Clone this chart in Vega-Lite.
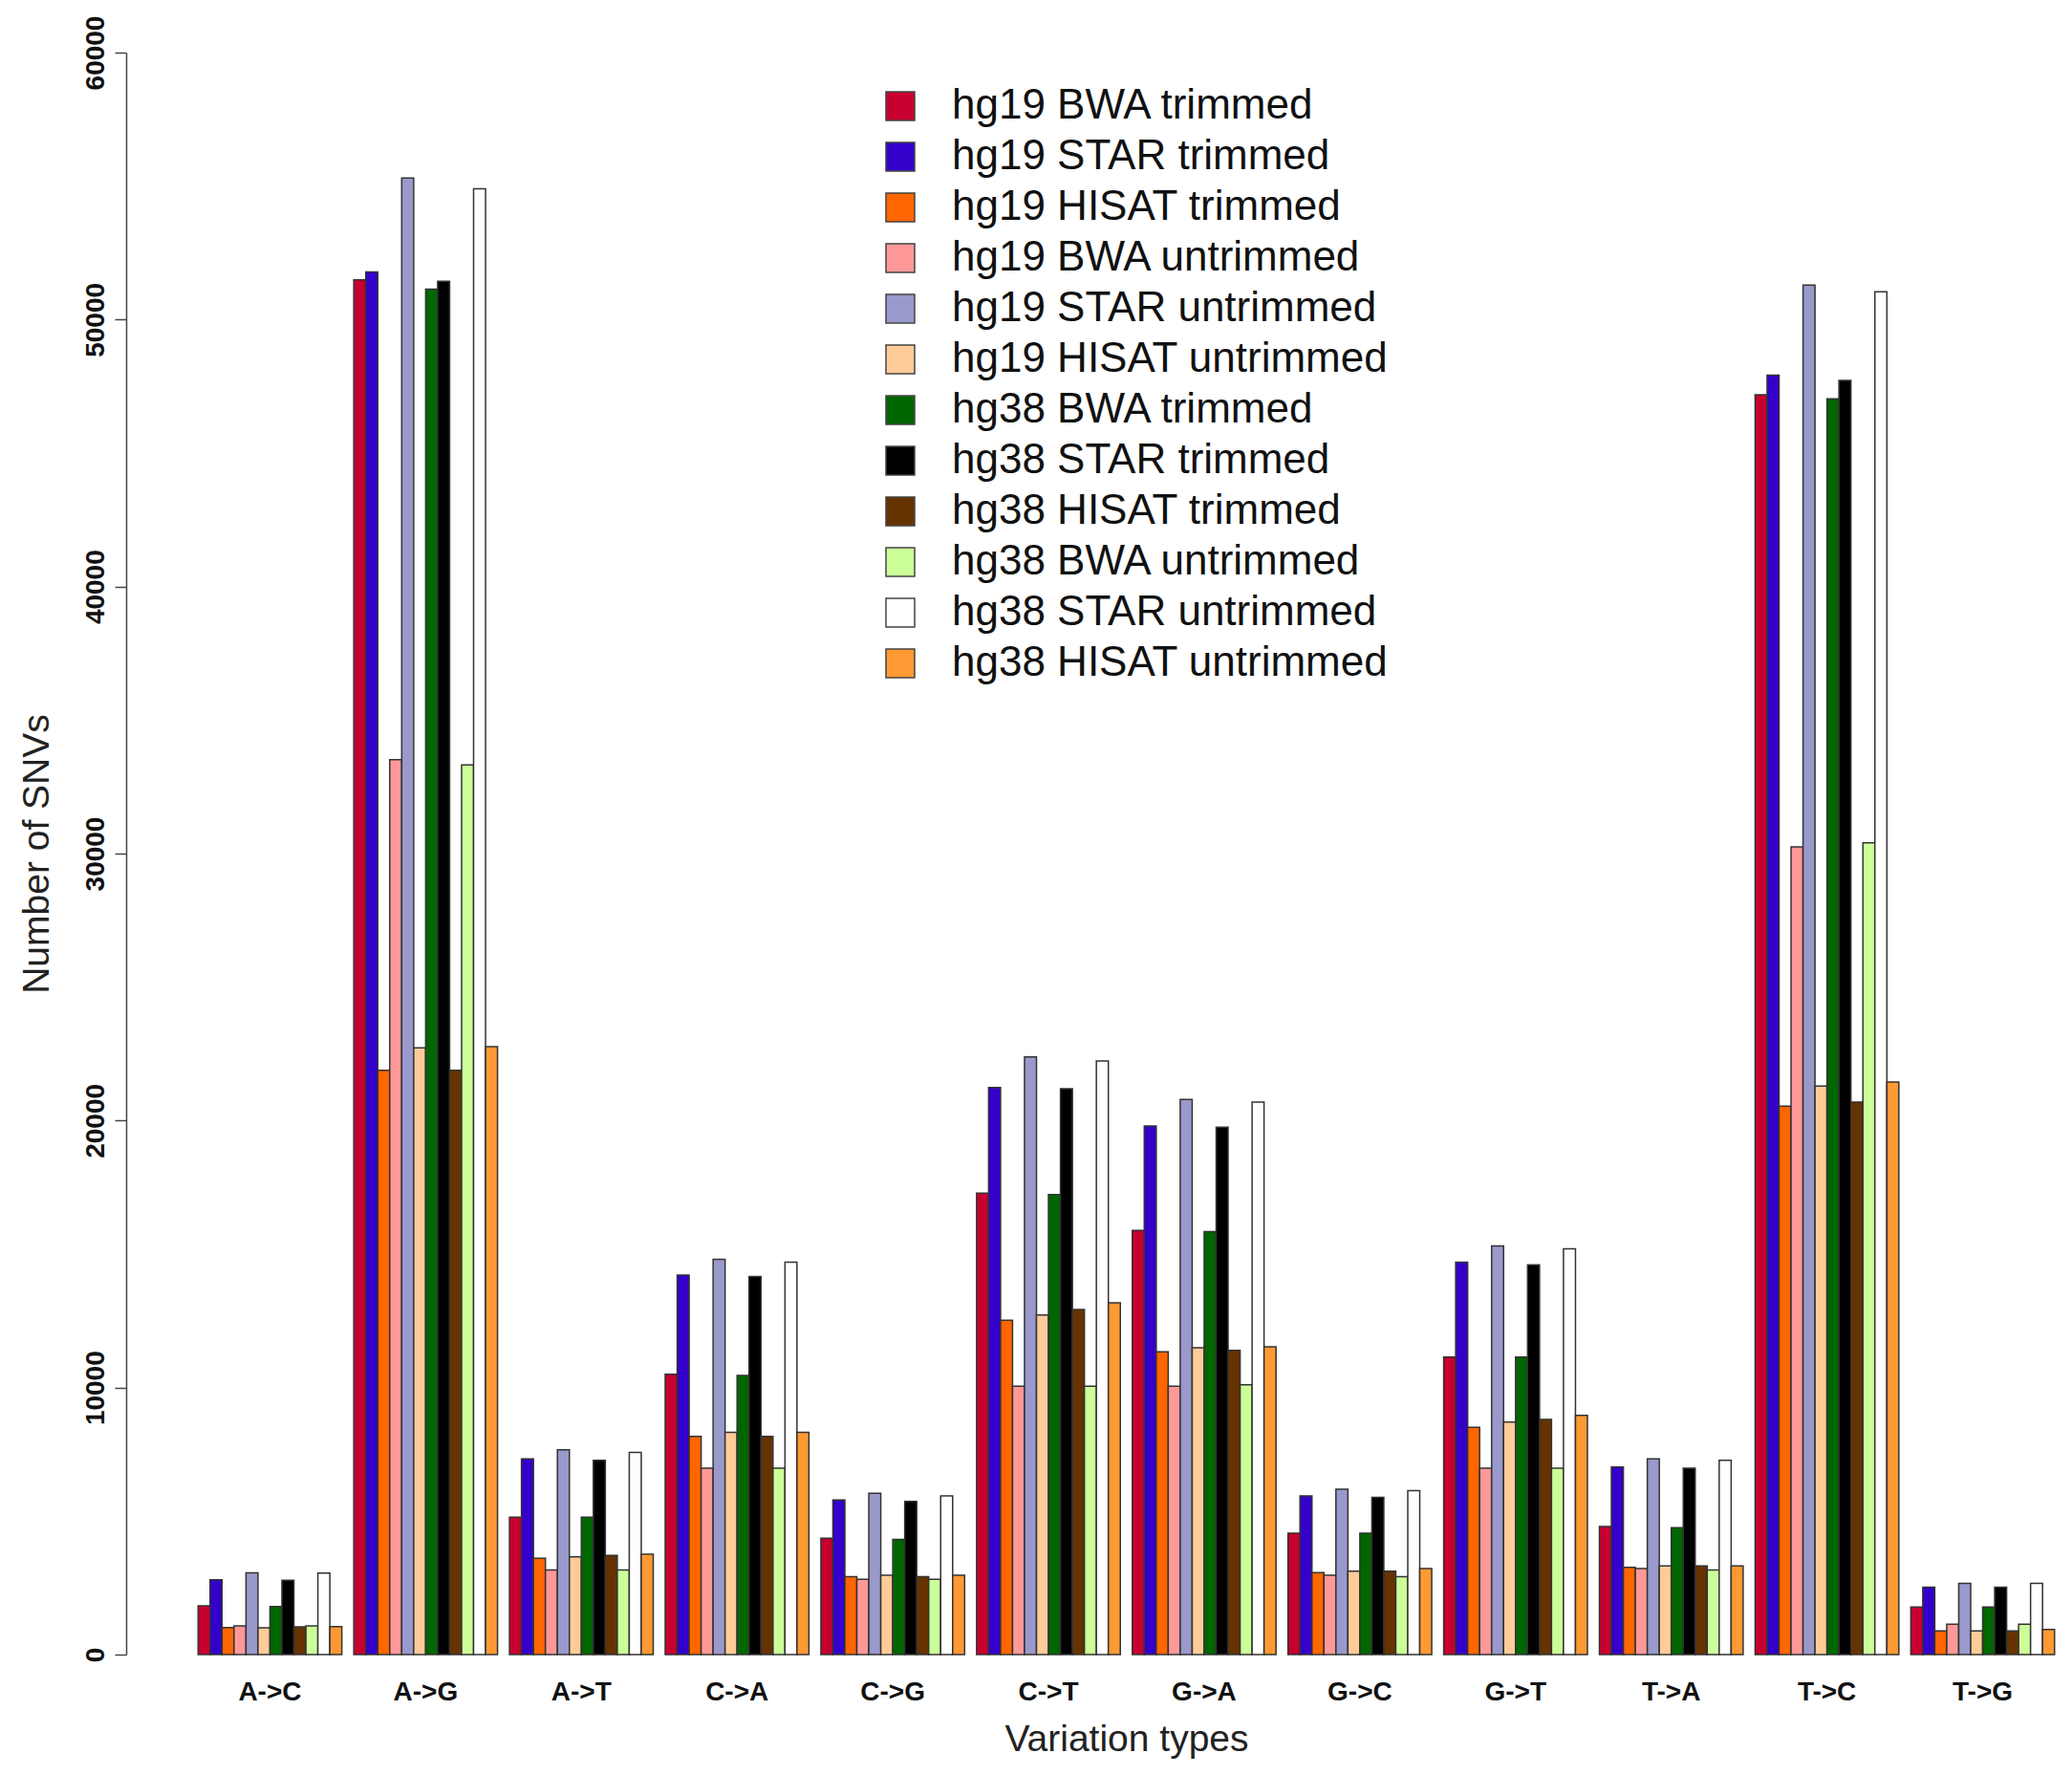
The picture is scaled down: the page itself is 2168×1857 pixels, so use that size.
{
  "$schema": "https://vega.github.io/schema/vega-lite/v6.json",
  "autosize": "none",
  "padding": {"left": 201, "top": 55, "right": 12, "bottom": 126},
  "width": 1955,
  "height": 1676,
  "background": "white",
  "config": {
    "view": {"stroke": null},
    "font": "Liberation Sans"
  },
  "data": {
    "values": [
      {"type": "A->C", "series": "hg19 BWA trimmed", "n": 1826},
      {"type": "A->C", "series": "hg19 STAR trimmed", "n": 2800},
      {"type": "A->C", "series": "hg19 HISAT trimmed", "n": 1013},
      {"type": "A->C", "series": "hg19 BWA untrimmed", "n": 1074},
      {"type": "A->C", "series": "hg19 STAR untrimmed", "n": 3060},
      {"type": "A->C", "series": "hg19 HISAT untrimmed", "n": 1000},
      {"type": "A->C", "series": "hg38 BWA trimmed", "n": 1800},
      {"type": "A->C", "series": "hg38 STAR trimmed", "n": 2780},
      {"type": "A->C", "series": "hg38 HISAT trimmed", "n": 1038},
      {"type": "A->C", "series": "hg38 BWA untrimmed", "n": 1074},
      {"type": "A->C", "series": "hg38 STAR untrimmed", "n": 3050},
      {"type": "A->C", "series": "hg38 HISAT untrimmed", "n": 1051},

      {"type": "A->G", "series": "hg19 BWA trimmed", "n": 51485},
      {"type": "A->G", "series": "hg19 STAR trimmed", "n": 51780},
      {"type": "A->G", "series": "hg19 HISAT trimmed", "n": 21880},
      {"type": "A->G", "series": "hg19 BWA untrimmed", "n": 33515},
      {"type": "A->G", "series": "hg19 STAR untrimmed", "n": 55300},
      {"type": "A->G", "series": "hg19 HISAT untrimmed", "n": 22720},
      {"type": "A->G", "series": "hg38 BWA trimmed", "n": 51140},
      {"type": "A->G", "series": "hg38 STAR trimmed", "n": 51435},
      {"type": "A->G", "series": "hg38 HISAT trimmed", "n": 21880},
      {"type": "A->G", "series": "hg38 BWA untrimmed", "n": 33320},
      {"type": "A->G", "series": "hg38 STAR untrimmed", "n": 54900},
      {"type": "A->G", "series": "hg38 HISAT untrimmed", "n": 22770},

      {"type": "A->T", "series": "hg19 BWA trimmed", "n": 5150},
      {"type": "A->T", "series": "hg19 STAR trimmed", "n": 7330},
      {"type": "A->T", "series": "hg19 HISAT trimmed", "n": 3610},
      {"type": "A->T", "series": "hg19 BWA untrimmed", "n": 3170},
      {"type": "A->T", "series": "hg19 STAR untrimmed", "n": 7670},
      {"type": "A->T", "series": "hg19 HISAT untrimmed", "n": 3660},
      {"type": "A->T", "series": "hg38 BWA trimmed", "n": 5150},
      {"type": "A->T", "series": "hg38 STAR trimmed", "n": 7280},
      {"type": "A->T", "series": "hg38 HISAT trimmed", "n": 3710},
      {"type": "A->T", "series": "hg38 BWA untrimmed", "n": 3170},
      {"type": "A->T", "series": "hg38 STAR untrimmed", "n": 7570},
      {"type": "A->T", "series": "hg38 HISAT untrimmed", "n": 3760},

      {"type": "C->A", "series": "hg19 BWA trimmed", "n": 10500},
      {"type": "C->A", "series": "hg19 STAR trimmed", "n": 14210},
      {"type": "C->A", "series": "hg19 HISAT trimmed", "n": 8170},
      {"type": "C->A", "series": "hg19 BWA untrimmed", "n": 6980},
      {"type": "C->A", "series": "hg19 STAR untrimmed", "n": 14800},
      {"type": "C->A", "series": "hg19 HISAT untrimmed", "n": 8320},
      {"type": "C->A", "series": "hg38 BWA trimmed", "n": 10450},
      {"type": "C->A", "series": "hg38 STAR trimmed", "n": 14160},
      {"type": "C->A", "series": "hg38 HISAT trimmed", "n": 8170},
      {"type": "C->A", "series": "hg38 BWA untrimmed", "n": 6980},
      {"type": "C->A", "series": "hg38 STAR untrimmed", "n": 14700},
      {"type": "C->A", "series": "hg38 HISAT untrimmed", "n": 8320},

      {"type": "C->G", "series": "hg19 BWA trimmed", "n": 4360},
      {"type": "C->G", "series": "hg19 STAR trimmed", "n": 5790},
      {"type": "C->G", "series": "hg19 HISAT trimmed", "n": 2920},
      {"type": "C->G", "series": "hg19 BWA untrimmed", "n": 2820},
      {"type": "C->G", "series": "hg19 STAR untrimmed", "n": 6040},
      {"type": "C->G", "series": "hg19 HISAT untrimmed", "n": 2970},
      {"type": "C->G", "series": "hg38 BWA trimmed", "n": 4310},
      {"type": "C->G", "series": "hg38 STAR trimmed", "n": 5740},
      {"type": "C->G", "series": "hg38 HISAT trimmed", "n": 2920},
      {"type": "C->G", "series": "hg38 BWA untrimmed", "n": 2820},
      {"type": "C->G", "series": "hg38 STAR untrimmed", "n": 5940},
      {"type": "C->G", "series": "hg38 HISAT untrimmed", "n": 2970},

      {"type": "C->T", "series": "hg19 BWA trimmed", "n": 17280},
      {"type": "C->T", "series": "hg19 STAR trimmed", "n": 21240},
      {"type": "C->T", "series": "hg19 HISAT trimmed", "n": 12520},
      {"type": "C->T", "series": "hg19 BWA untrimmed", "n": 10050},
      {"type": "C->T", "series": "hg19 STAR untrimmed", "n": 22380},
      {"type": "C->T", "series": "hg19 HISAT untrimmed", "n": 12720},
      {"type": "C->T", "series": "hg38 BWA trimmed", "n": 17230},
      {"type": "C->T", "series": "hg38 STAR trimmed", "n": 21190},
      {"type": "C->T", "series": "hg38 HISAT trimmed", "n": 12920},
      {"type": "C->T", "series": "hg38 BWA untrimmed", "n": 10050},
      {"type": "C->T", "series": "hg38 STAR untrimmed", "n": 22230},
      {"type": "C->T", "series": "hg38 HISAT untrimmed", "n": 13170},

      {"type": "G->A", "series": "hg19 BWA trimmed", "n": 15890},
      {"type": "G->A", "series": "hg19 STAR trimmed", "n": 19800},
      {"type": "G->A", "series": "hg19 HISAT trimmed", "n": 11340},
      {"type": "G->A", "series": "hg19 BWA untrimmed", "n": 10050},
      {"type": "G->A", "series": "hg19 STAR untrimmed", "n": 20790},
      {"type": "G->A", "series": "hg19 HISAT untrimmed", "n": 11490},
      {"type": "G->A", "series": "hg38 BWA trimmed", "n": 15840},
      {"type": "G->A", "series": "hg38 STAR trimmed", "n": 19750},
      {"type": "G->A", "series": "hg38 HISAT trimmed", "n": 11390},
      {"type": "G->A", "series": "hg38 BWA untrimmed", "n": 10100},
      {"type": "G->A", "series": "hg38 STAR untrimmed", "n": 20690},
      {"type": "G->A", "series": "hg38 HISAT untrimmed", "n": 11530},

      {"type": "G->C", "series": "hg19 BWA trimmed", "n": 4550},
      {"type": "G->C", "series": "hg19 STAR trimmed", "n": 5940},
      {"type": "G->C", "series": "hg19 HISAT trimmed", "n": 3070},
      {"type": "G->C", "series": "hg19 BWA untrimmed", "n": 2970},
      {"type": "G->C", "series": "hg19 STAR untrimmed", "n": 6190},
      {"type": "G->C", "series": "hg19 HISAT untrimmed", "n": 3120},
      {"type": "G->C", "series": "hg38 BWA trimmed", "n": 4550},
      {"type": "G->C", "series": "hg38 STAR trimmed", "n": 5890},
      {"type": "G->C", "series": "hg38 HISAT trimmed", "n": 3120},
      {"type": "G->C", "series": "hg38 BWA untrimmed", "n": 2920},
      {"type": "G->C", "series": "hg38 STAR untrimmed", "n": 6140},
      {"type": "G->C", "series": "hg38 HISAT untrimmed", "n": 3220},

      {"type": "G->T", "series": "hg19 BWA trimmed", "n": 11140},
      {"type": "G->T", "series": "hg19 STAR trimmed", "n": 14700},
      {"type": "G->T", "series": "hg19 HISAT trimmed", "n": 8510},
      {"type": "G->T", "series": "hg19 BWA untrimmed", "n": 6980},
      {"type": "G->T", "series": "hg19 STAR untrimmed", "n": 15300},
      {"type": "G->T", "series": "hg19 HISAT untrimmed", "n": 8710},
      {"type": "G->T", "series": "hg38 BWA trimmed", "n": 11140},
      {"type": "G->T", "series": "hg38 STAR trimmed", "n": 14600},
      {"type": "G->T", "series": "hg38 HISAT trimmed", "n": 8810},
      {"type": "G->T", "series": "hg38 BWA untrimmed", "n": 6980},
      {"type": "G->T", "series": "hg38 STAR untrimmed", "n": 15200},
      {"type": "G->T", "series": "hg38 HISAT untrimmed", "n": 8960},

      {"type": "T->A", "series": "hg19 BWA trimmed", "n": 4800},
      {"type": "T->A", "series": "hg19 STAR trimmed", "n": 7030},
      {"type": "T->A", "series": "hg19 HISAT trimmed", "n": 3270},
      {"type": "T->A", "series": "hg19 BWA untrimmed", "n": 3220},
      {"type": "T->A", "series": "hg19 STAR untrimmed", "n": 7330},
      {"type": "T->A", "series": "hg19 HISAT untrimmed", "n": 3320},
      {"type": "T->A", "series": "hg38 BWA trimmed", "n": 4750},
      {"type": "T->A", "series": "hg38 STAR trimmed", "n": 6980},
      {"type": "T->A", "series": "hg38 HISAT trimmed", "n": 3320},
      {"type": "T->A", "series": "hg38 BWA untrimmed", "n": 3170},
      {"type": "T->A", "series": "hg38 STAR untrimmed", "n": 7280},
      {"type": "T->A", "series": "hg38 HISAT untrimmed", "n": 3320},

      {"type": "T->C", "series": "hg19 BWA trimmed", "n": 47180},
      {"type": "T->C", "series": "hg19 STAR trimmed", "n": 47920},
      {"type": "T->C", "series": "hg19 HISAT trimmed", "n": 20540},
      {"type": "T->C", "series": "hg19 BWA untrimmed", "n": 30250},
      {"type": "T->C", "series": "hg19 STAR untrimmed", "n": 51290},
      {"type": "T->C", "series": "hg19 HISAT untrimmed", "n": 21290},
      {"type": "T->C", "series": "hg38 BWA trimmed", "n": 47030},
      {"type": "T->C", "series": "hg38 STAR trimmed", "n": 47720},
      {"type": "T->C", "series": "hg38 HISAT trimmed", "n": 20690},
      {"type": "T->C", "series": "hg38 BWA untrimmed", "n": 30400},
      {"type": "T->C", "series": "hg38 STAR untrimmed", "n": 51040},
      {"type": "T->C", "series": "hg38 HISAT untrimmed", "n": 21440},

      {"type": "T->G", "series": "hg19 BWA trimmed", "n": 1780},
      {"type": "T->G", "series": "hg19 STAR trimmed", "n": 2520},
      {"type": "T->G", "series": "hg19 HISAT trimmed", "n": 890},
      {"type": "T->G", "series": "hg19 BWA untrimmed", "n": 1140},
      {"type": "T->G", "series": "hg19 STAR untrimmed", "n": 2670},
      {"type": "T->G", "series": "hg19 HISAT untrimmed", "n": 890},
      {"type": "T->G", "series": "hg38 BWA trimmed", "n": 1780},
      {"type": "T->G", "series": "hg38 STAR trimmed", "n": 2520},
      {"type": "T->G", "series": "hg38 HISAT trimmed", "n": 890},
      {"type": "T->G", "series": "hg38 BWA untrimmed", "n": 1140},
      {"type": "T->G", "series": "hg38 STAR untrimmed", "n": 2670},
      {"type": "T->G", "series": "hg38 HISAT untrimmed", "n": 940}
    ]
  },
  "mark": {"type": "bar", "stroke": "#333333", "strokeWidth": 1.5},
  "encoding": {
    "x": {
      "field": "type",
      "type": "nominal",
      "sort": null,
      "scale": {"paddingInner": 0.0769, "paddingOuter": 0.0385},
      "axis": {
        "title": "Variation types",
        "titleFontSize": 39,
        "titleFontWeight": "normal",
        "titleColor": "#222222",
        "titlePadding": 16,
        "labelAngle": 0,
        "labelFontSize": 28,
        "labelFontWeight": "bold",
        "labelColor": "#111111",
        "labelPadding": 25,
        "domain": false,
        "ticks": false
      }
    },
    "xOffset": {
      "field": "series",
      "type": "nominal",
      "sort": null,
      "scale": {"paddingInner": 0, "paddingOuter": 0}
    },
    "y": {
      "field": "n",
      "type": "quantitative",
      "scale": {"domain": [0, 60000], "nice": false, "zero": true},
      "axis": {
        "title": "Number of SNVs",
        "titleFontSize": 39,
        "titleFontWeight": "normal",
        "titleColor": "#222222",
        "titlePadding": 28,
        "values": [0, 10000, 20000, 30000, 40000, 50000, 60000],
        "format": "d",
        "labelAngle": -90,
        "labelAlign": "center",
        "labelBaseline": "bottom",
        "labelFontSize": 28,
        "labelFontWeight": "bold",
        "labelColor": "#111111",
        "labelPadding": 6,
        "tickSize": 12,
        "tickColor": "#444444",
        "tickWidth": 1.5,
        "domainColor": "#444444",
        "domainWidth": 1.5,
        "offset": 69,
        "grid": false
      }
    },
    "color": {
      "field": "series",
      "type": "nominal",
      "sort": null,
      "scale": {
        "domain": [
          "hg19 BWA trimmed", "hg19 STAR trimmed", "hg19 HISAT trimmed",
          "hg19 BWA untrimmed", "hg19 STAR untrimmed", "hg19 HISAT untrimmed",
          "hg38 BWA trimmed", "hg38 STAR trimmed", "hg38 HISAT trimmed",
          "hg38 BWA untrimmed", "hg38 STAR untrimmed", "hg38 HISAT untrimmed"
        ],
        "range": [
          "#C8002F", "#3300CC", "#FF6600",
          "#FF9999", "#9999CC", "#FFCC99",
          "#006600", "#000000", "#663300",
          "#CCFF99", "#FFFFFF", "#FF9933"
        ]
      },
      "legend": {
        "title": null,
        "orient": "none",
        "legendX": 719,
        "legendY": 34,
        "symbolType": "square",
        "symbolSize": 900,
        "symbolStrokeColor": "#444444",
        "symbolStrokeWidth": 1.5,
        "labelFontSize": 44,
        "labelColor": "#111111",
        "labelOffset": 32,
        "rowPadding": 9,
        "labelLimit": 900
      }
    }
  }
}
